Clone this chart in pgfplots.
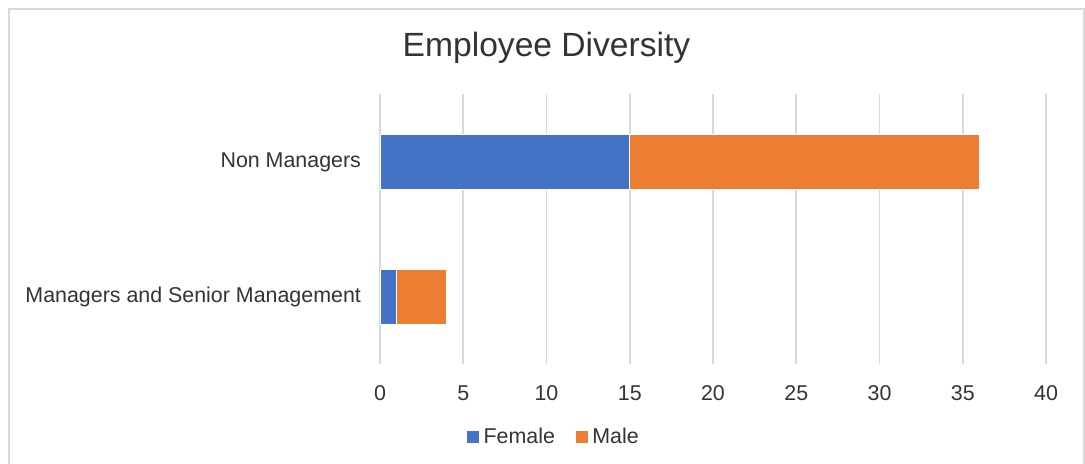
\documentclass[border=0pt]{standalone}
\usepackage{pgfplots}
\pgfplotsset{compat=1.18}
\usepackage{fontspec}
\setmainfont{Liberation Sans}
\definecolor{cblue}{HTML}{4472C4}
\definecolor{corange}{HTML}{ED7D31}
\definecolor{gridc}{HTML}{D9D9D9}
\definecolor{txt}{HTML}{333333}
\begin{document}
\begin{tikzpicture}
\useasboundingbox (0,0) rectangle (542.5pt,232pt);
\draw[gridc, line width=0.8pt] (4.5pt,-5pt) rectangle (542pt,227.5pt);
\node[anchor=base, text=txt, font=\fontsize{16.8}{19}\selectfont] at (273.25pt,203.5pt) {Employee Diversity};
\begin{axis}[
  at={(190pt,49.75pt)}, anchor=south west,
  scale only axis,
  width=333pt, height=135pt,
  xbar stacked,
  bar width=27.5pt,
  xmin=0, xmax=40,
  ymin=-0.5, ymax=1.5,
  ytick={0,1},
  yticklabels={Managers and Senior Management, Non Managers},
  xtick={0,5,...,40},
  xmajorgrids,
  grid style={gridc, line width=0.8pt},
  axis line style={draw=none},
  major tick length=0pt,
  tick label style={font=\fontsize{10.7}{12}\selectfont, text=txt},
  yticklabel style={xshift=-6pt},
  xticklabel style={yshift=-7.2pt},
  /pgf/number format/assume math mode=true,
  legend columns=2,
  legend style={at={(0.262,-0.2685)}, anchor=center, draw=none, fill=none,
    font=\fontsize{10.7}{12}\selectfont, text=txt,
    /tikz/every even column/.append style={column sep=8pt}},
  legend image code/.code={\fill[#1] (-1pt,-3.2pt) rectangle (5.4pt,3.2pt);},
]
\addplot[fill=cblue, draw=white, line width=0.3pt] coordinates {(1,0) (15,1)};
\addplot[fill=corange, draw=white, line width=0.3pt] coordinates {(3,0) (21,1)};
\legend{Female, Male}
\end{axis}
\end{tikzpicture}
\end{document}
